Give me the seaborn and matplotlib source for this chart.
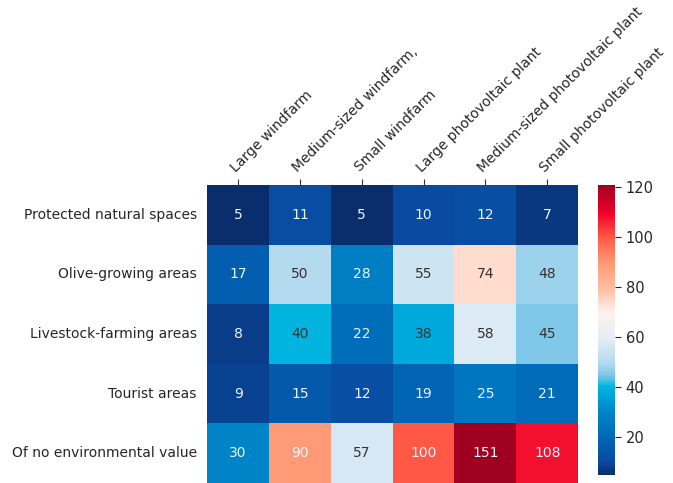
import numpy as np
import pandas as pd
import matplotlib
matplotlib.use('Agg')
import matplotlib.pyplot as plt
import seaborn as sns
from matplotlib.colors import LinearSegmentedColormap

# Data
plant_types = ['Large windfarm', 'Medium-sized windfarm,', 'Small windfarm',
               'Large photovoltaic plant', 'Medium-sized photovoltaic plant',
               'Small photovoltaic plant']
areas = ['Protected natural spaces', 'Olive-growing areas', 'Livestock-farming areas',
         'Tourist areas', 'Of no environmental value']
protected = [5, 11, 5, 10, 12, 7]
olive = [17, 50, 28, 55, 74, 48]
livestock = [8, 40, 22, 38, 58, 45]
tourist = [9, 15, 12, 19, 25, 21]
no_value = [30, 90, 57, 100, 151, 108]

df = pd.DataFrame([protected, olive, livestock, tourist, no_value],
                  index=areas, columns=plant_types)

# blue -> cyan -> white -> red colormap like the original
vmin, vmax = 5, 121
stops = [(5, '#0a2d6e'), (10, '#0a4aa0'), (20, '#0068b8'), (30, '#0084c8'),
         (40, '#00b4e0'), (45, '#80c8ea'), (50, '#b4daef'), (60, '#e6eef6'),
         (70, '#fff2ee'), (80, '#ffbc9e'), (90, '#ff9a76'), (100, '#ff5a46'),
         (110, '#f0002a'), (121, '#a00020')]
cmap = LinearSegmentedColormap.from_list(
    'custom', [((v - vmin) / (vmax - vmin), c) for v, c in stops])

sns.set_style('white')
fig = plt.figure(figsize=(6.73, 4.83), dpi=100)
ax = fig.add_axes([0.308, 0.0, 0.551, 0.617])
cax = fig.add_axes([0.889, 0.017, 0.025, 0.60])

sns.heatmap(df, annot=True, fmt='d', cmap=cmap, vmin=vmin, vmax=vmax,
            ax=ax, cbar_ax=cax, annot_kws={'fontsize': 10})

# dark text on the light cells, light text elsewhere
for t in ax.texts:
    v = int(t.get_text())
    t.set_color('#333333' if 36 <= v <= 80 else '#eaf6ff')

ax.xaxis.tick_top()
ax.set_xticklabels(plant_types, rotation=45, ha='left', rotation_mode='anchor', fontsize=10)
ax.set_yticklabels(areas, rotation=0, fontsize=10)
ax.tick_params(axis='both', length=4, color='#333333')
cax.set_yticks([20, 40, 60, 80, 100, 120])
cax.tick_params(labelsize=10.5, length=4)

plt.savefig('out.png', dpi=100)
